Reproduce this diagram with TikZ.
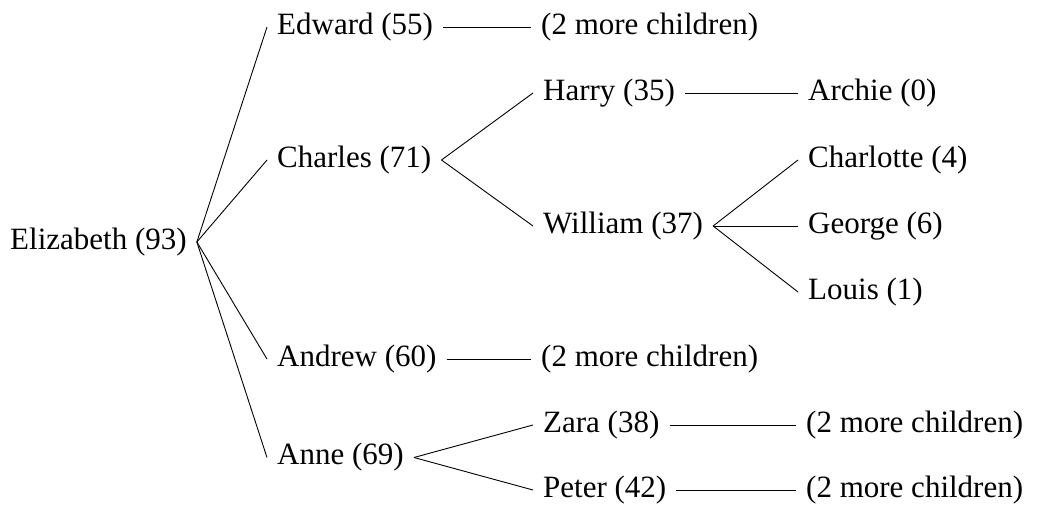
\documentclass[tikz,border=0pt]{standalone}
\usepackage{fontspec}
\setmainfont{Liberation Serif}
\begin{document}
\begin{tikzpicture}[x=1pt,y=-1pt,
  person/.style={anchor=west,inner xsep=10pt,inner ysep=0pt,font=\fontsize{31}{36}\selectfont},
  link/.style={line width=0.9pt}]
\useasboundingbox (0,0) rectangle (1039,506);
\node[person] (eliz) at (0,242) {Elizabeth (93)};
\node[person] (edw) at (267,27) {Edward (55)};
\node[person] (cha) at (267,160) {Charles (71)};
\node[person] (and) at (267,359) {Andrew (60)};
\node[person] (ann) at (267,457.5) {Anne (69)};
\node[person] (edwm) at (531,27) {(2 more children)};
\node[person] (har) at (533,93) {Harry (35)};
\node[person] (wil) at (533,226) {William (37)};
\node[person] (andm) at (531,359) {(2 more children)};
\node[person] (zar) at (533,425) {Zara (38)};
\node[person] (pet) at (533,490) {Peter (42)};
\node[person] (arc) at (798,93) {Archie (0)};
\node[person] (chl) at (798,160) {Charlotte (4)};
\node[person] (geo) at (798,226) {George (6)};
\node[person] (lou) at (798,292) {Louis (1)};
\node[person] (zarm) at (796,425) {(2 more children)};
\node[person] (petm) at (796,490) {(2 more children)};
\foreach \a/\b in {eliz/edw,eliz/cha,eliz/and,eliz/ann,edw/edwm,cha/har,cha/wil,and/andm,ann/zar,ann/pet,har/arc,wil/chl,wil/geo,wil/lou,zar/zarm,pet/petm}
  \draw[link] (\a.east) -- (\b.west);
\end{tikzpicture}
\end{document}
